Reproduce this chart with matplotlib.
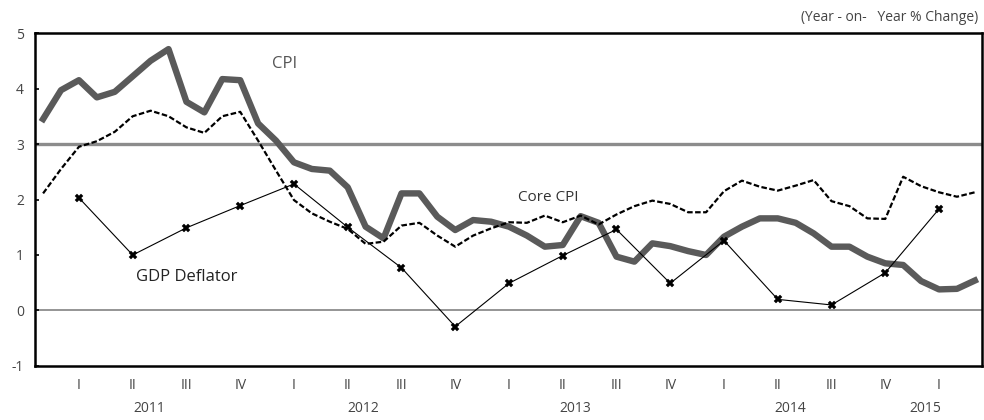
import numpy as np
import matplotlib.pyplot as plt
import matplotlib.transforms as mtransforms

plt.rcParams['font.family'] = ['Open Sans', 'DejaVu Sans']

# Monthly data, Jan 2011 - May 2015 (year-on-year % change)
cpi = [3.45, 3.97, 4.15, 3.84, 3.94, 4.22, 4.50, 4.71, 3.76, 3.57, 4.17, 4.15,
       3.37, 3.06, 2.67, 2.55, 2.52, 2.22, 1.51, 1.30, 2.11, 2.11, 1.69, 1.45,
       1.63, 1.60, 1.51, 1.35, 1.15, 1.18, 1.70, 1.58, 0.97, 0.88, 1.21, 1.16,
       1.07, 1.00, 1.33, 1.51, 1.66, 1.66, 1.58, 1.39, 1.15, 1.15, 0.97, 0.85,
       0.82, 0.53, 0.38, 0.39, 0.54]
core_cpi = [2.11, 2.55, 2.95, 3.05, 3.22, 3.50, 3.60, 3.50, 3.30, 3.20, 3.50, 3.58,
            3.06, 2.52, 1.99, 1.75, 1.60, 1.47, 1.20, 1.24, 1.53, 1.58, 1.35, 1.15,
            1.35, 1.48, 1.59, 1.58, 1.71, 1.59, 1.71, 1.55, 1.73, 1.88, 1.98, 1.92,
            1.77, 1.77, 2.15, 2.34, 2.23, 2.16, 2.25, 2.35, 1.97, 1.88, 1.66, 1.65,
            2.41, 2.24, 2.13, 2.05, 2.13]

# Quarterly GDP deflator, 2011 Q1 - 2015 Q1
gdp_deflator = [2.03, 1.00, 1.49, 1.89, 2.28, 1.50, 0.77, -0.29,
                0.49, 0.99, 1.46, 0.49, 1.26, 0.20, 0.10, 0.68, 1.83]

quarter_labels = ['I', 'II', 'III', 'IV'] * 4 + ['I']
years = ['2011', '2012', '2013', '2014', '2015']
year_pos = [5.9, 17.85, 29.7, 41.7, 49.25]

months = np.arange(len(cpi))
quarters = np.arange(len(gdp_deflator)) * 3 + 2

fig = plt.figure(figsize=(9.84, 4.2), dpi=100)
ax = fig.add_axes([0.0356, 0.1286, 0.9624, 0.7928])

ax.axhline(3, color='#8c8c8c', lw=2.4, zorder=1)
ax.axhline(0, color='#8c8c8c', lw=1.3, zorder=1)

ax.plot(months, cpi, color='#5a5a5a', lw=4.6, solid_joinstyle='round', zorder=2)
ax.plot(months, core_cpi, color='black', lw=1.6, dashes=(2.5, 1.1), zorder=3)
ax.plot(quarters, gdp_deflator, color='black', lw=0.8, marker='X',
        markersize=6, markeredgewidth=0.3, zorder=4)

ax.set_xlim(-0.45, 52.4)
ax.set_ylim(-1, 5)
ax.set_yticks(range(-1, 6))
ax.set_yticklabels([str(v) for v in range(-1, 6)])
ax.set_xticks(quarters)
ax.set_xticklabels(quarter_labels)
ax.tick_params(axis='x', length=0, pad=9, labelsize=10, labelcolor='#444444')
ax.tick_params(axis='y', direction='in', length=3, width=1.2, pad=8,
               labelsize=10, labelcolor='#444444')
for s in ax.spines.values():
    s.set_linewidth(1.8)
    s.set_color('black')

trans = mtransforms.blended_transform_factory(ax.transData, ax.transAxes)
for yr, xp in zip(years, year_pos):
    ax.text(xp, -0.128, yr, transform=trans, ha='center', va='center',
            fontsize=10, color='#444444')

ax.text(13.5, 4.45, 'CPI', fontsize=12, color='#555555', ha='center', va='center')
ax.text(28.2, 2.03, 'Core CPI', fontsize=11, color='#333333', ha='center', va='center')
ax.text(8.0, 0.6, 'GDP Deflator', fontsize=12, color='#222222', ha='center',
        va='center', fontweight='medium')

fig.text(0.994, 0.958, '(Year - on-   Year % Change)', ha='right', va='center',
         fontsize=10, color='#444444')

fig.savefig('out.png', dpi=100)
